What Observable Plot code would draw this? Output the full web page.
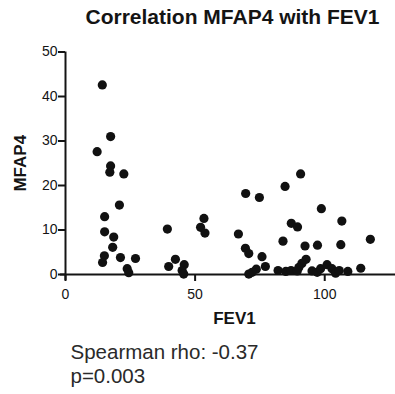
<!DOCTYPE html>
<html>
<head>
<meta charset="utf-8">
<script src="https://cdn.jsdelivr.net/npm/d3@7"></script>
<script src="https://cdn.jsdelivr.net/npm/@observablehq/plot@0.6"></script>
<style>
  html, body { margin: 0; padding: 0; background: #fff; overflow: hidden; }
  #chart svg { display: block; font-family: 'Liberation Sans', Arial, sans-serif; }
</style>
</head>
<body>
<div id="chart"></div>
<script>
const title = "Correlation MFAP4 with FEV1";
const xLabel = "FEV1";
const yLabel = "MFAP4";
const captionLines = ["Spearman rho: -0.37", "p=0.003"];
const xTicks = [0, 50, 100];
const yTicks = [0, 10, 20, 30, 40, 50];

const fev1 = [
  14.2, 12.2, 17.4, 17.4, 17.1, 22.5, 20.8, 15.1, 15.1, 18.6, 18.2, 15.0, 14.3, 21.2, 27.0, 23.8, 24.4,
  39.3, 39.8, 42.4, 45.8, 45.0, 45.6, 53.4, 52.1, 53.8,
  69.5, 74.8, 66.7, 69.4, 70.7, 75.8, 77.1, 73.6, 72.0, 70.7,
  90.7, 84.7, 98.7, 106.6, 87.1, 89.5, 117.6, 83.9, 92.4, 97.2, 106.2, 92.8, 91.2, 90.0,
  82.0, 85.0, 87.0, 89.4, 95.1, 97.1, 98.4, 100.9, 102.8, 104.2, 105.6, 108.9, 113.9
];
const mfap4 = [
  42.6, 27.6, 31.0, 24.4, 23.0, 22.6, 15.6, 13.0, 9.6, 8.4, 6.1, 4.2, 2.7, 3.8, 3.6, 1.3, 0.4,
  10.2, 1.8, 3.4, 2.2, 0.9, 0.1, 12.6, 10.6, 9.3,
  18.2, 17.3, 9.1, 5.9, 4.7, 4.0, 1.8, 1.2, 0.5, 0.1,
  22.6, 19.8, 14.8, 12.0, 11.5, 10.7, 7.9, 7.5, 6.4, 6.6, 6.7, 3.4, 2.5, 1.6,
  0.9, 0.7, 0.9, 0.8, 0.8, 0.5, 1.3, 2.2, 1.3, 0.3, 0.9, 0.7, 1.4
];

const rows = fev1.map((f, i) => ({fev1: f, mfap4: mfap4[i]}));
const ink = "#141414";
const W = 395, H = 394, mT = 51.5, mB = 120, mL = 65, mR = 0;
const frameW = W - mL - mR, frameH = H - mT - mB;

const svg = Plot.plot({
  width: W,
  height: H,
  marginTop: mT,
  marginBottom: mB,
  marginLeft: mL,
  marginRight: mR,
  x: {domain: [0, 127.3], axis: null},
  y: {domain: [0, 50], axis: null},
  marks: [
    Plot.tickY([0], {stroke: ink, strokeWidth: 2, insetLeft: -5}),
    Plot.tickX([0], {stroke: ink, strokeWidth: 2, insetBottom: -6}),
    Plot.tickX(xTicks, {stroke: ink, strokeWidth: 2, insetTop: frameH, insetBottom: -7}),
    Plot.tickY(yTicks, {stroke: ink, strokeWidth: 2, insetRight: frameW, insetLeft: -7}),
    Plot.text(xTicks, {x: d => d, frameAnchor: "bottom", dy: 20, fontSize: 14, fill: ink, textAnchor: "middle", lineAnchor: "middle"}),
    Plot.text(yTicks, {y: d => d, frameAnchor: "left", dx: -8, fontSize: 14, fill: ink, textAnchor: "end", lineAnchor: "middle"}),
    Plot.dot(rows, {x: "fev1", y: "mfap4", r: 4.6, fill: "#111"}),
    Plot.text([title], {frameAnchor: "top", dx: 2, dy: -35, fontSize: 21, fontWeight: "bold", fill: ink, textAnchor: "middle", lineAnchor: "middle"}),
    Plot.text([xLabel], {frameAnchor: "bottom", dx: 4, dy: 44, fontSize: 17, fontWeight: "bold", fill: ink, textAnchor: "middle", lineAnchor: "middle"}),
    Plot.text([yLabel], {frameAnchor: "left", dx: -45, rotate: -90, fontSize: 17, fontWeight: "bold", fill: ink, textAnchor: "middle", lineAnchor: "middle"}),
    Plot.text([captionLines[0]], {frameAnchor: "bottom-left", dx: 5, dy: 84, textAnchor: "start", lineAnchor: "bottom", fontSize: 20.5, fill: "#2a2a2a"}),
    Plot.text([captionLines[1]], {frameAnchor: "bottom-left", dx: 5, dy: 108, textAnchor: "start", lineAnchor: "bottom", fontSize: 20.5, fill: "#2a2a2a"})
  ]
});
document.getElementById("chart").append(svg);
</script>
</body>
</html>
